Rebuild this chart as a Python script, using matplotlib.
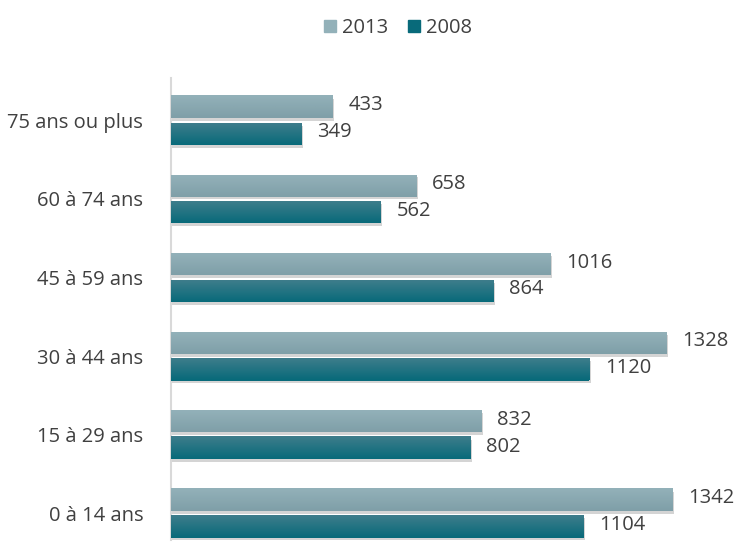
import matplotlib
matplotlib.use("Agg")
import matplotlib.pyplot as plt
import numpy as np
from matplotlib.colors import LinearSegmentedColormap
from matplotlib.patches import Patch

categories = ["0 à 14 ans", "15 à 29 ans", "30 à 44 ans", "45 à 59 ans", "60 à 74 ans", "75 ans ou plus"]
values_2013 = [1342, 832, 1328, 1016, 658, 433]
values_2008 = [1104, 802, 1120, 864, 562, 349]
series_names = ["2013", "2008"]

plt.rcParams['font.family'] = ['Open Sans', 'DejaVu Sans']
text_color = "#404040"
fs = 14.5

fig = plt.figure(figsize=(7.38, 5.45), dpi=100)
ax = fig.add_axes([171/738, 5/545, 560/738, 462/545])

y = np.arange(len(categories))
off = 0.17
h = 0.28
c13_top, c13_bot = "#93b1b9", "#7f9fa8"
c08_top, c08_bot = "#3e7d8b", "#086a7a"

def draw(vals, ypos, ctop, cbot):
    bars = ax.barh(ypos, vals, height=h, color=cbot, zorder=3)
    cmap = LinearSegmentedColormap.from_list("g", [ctop, cbot])
    grad = np.linspace(0, 1, 50).reshape(-1, 1)
    for b in bars:
        x0, y0, w, hh = b.get_x(), b.get_y(), b.get_width(), b.get_height()
        ax.barh(y0 + hh/2 - 0.035, w + 4, height=hh, left=x0, color="#b8b8b8", alpha=0.6, zorder=2)
        ax.imshow(grad, extent=(x0, x0 + w, y0, y0 + hh), origin="upper",
                  cmap=cmap, aspect="auto", zorder=4)
    return bars

b13 = draw(values_2013, y + off, c13_top, c13_bot)
b08 = draw(values_2008, y - off, c08_top, c08_bot)

for bars, vals in ((b13, values_2013), (b08, values_2008)):
    for b, v in zip(bars, vals):
        ax.text(b.get_width() + 42, b.get_y() + b.get_height()/2 + 0.02, str(v),
                va="center", ha="left", fontsize=fs, color=text_color, zorder=5)

ax.set_xlim(0, 1500)
ax.set_ylim(-0.34, 5.54)
ax.set_yticks(y)
ax.set_yticklabels(categories, fontsize=fs, color=text_color)
ax.tick_params(axis="y", length=0, pad=20)
ax.set_xticks([])
for s in ["top", "right", "bottom"]:
    ax.spines[s].set_visible(False)
ax.spines["left"].set_color("#d9d9d9")
ax.spines["left"].set_linewidth(1.5)

handles = [Patch(color=c13_top), Patch(color=c08_bot)]
fig.legend(handles, series_names, loc="center", bbox_to_anchor=(398/738, 1 - 28/545),
           ncol=2, frameon=False, fontsize=fs, labelcolor=text_color,
           handlelength=0.6, handleheight=0.6, handletextpad=0.3, columnspacing=1.0)

fig.savefig("out.png", dpi=100)
